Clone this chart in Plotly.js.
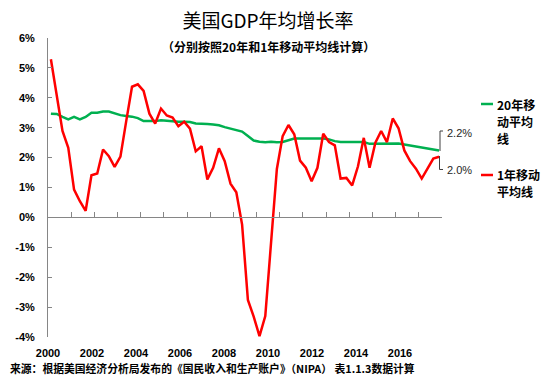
<!DOCTYPE html>
<html>
<head>
<meta charset="utf-8">
<script src="https://cdn.plot.ly/plotly-3.0.1.min.js"></script>
<style>html,body{margin:0;padding:0;background:#fff;}#chart{width:550px;height:381px;}</style>
</head>
<body>
<div id="chart"></div>
<script>
// ---- data ----
const years = [2000,2001,2002,2003,2004,2005,2006,2007,2008,2009,2010,2011,2012,2013,2014,2015,2016];
const quarterNames = ['Q1','Q2','Q3','Q4'];
const quarters = years.flatMap(y => quarterNames.map(q => y + q));

// 1-year moving average growth (%)
const ma1 = [5.29,4.06,2.89,2.33,0.93,0.54,0.22,1.41,1.47,2.27,2.05,1.69,
             2.03,3.22,4.37,4.45,4.23,3.47,3.14,3.64,3.41,3.34,3.05,3.20,
             2.97,2.21,2.38,1.27,1.66,2.31,1.88,1.13,0.84,-0.24,-2.76,-3.32,
             -3.97,-3.30,-0.81,1.62,2.72,3.09,2.78,1.90,1.66,1.21,1.66,2.80,
             2.52,2.41,1.30,1.32,1.07,1.71,2.66,1.66,2.50,2.89,2.52,3.31,
             2.98,2.24,1.88,1.63,1.30,1.66,1.97,2.03];
// 20-year moving average growth (%)
const ma20 = [3.47,3.46,3.36,3.28,3.36,3.28,3.36,3.50,3.50,3.54,3.54,3.48,
              3.42,3.39,3.37,3.32,3.22,3.22,3.22,3.25,3.23,3.20,3.20,3.20,
              3.19,3.14,3.14,3.12,3.11,3.08,3.02,2.97,2.91,2.87,2.72,2.57,
              2.53,2.51,2.53,2.51,2.52,2.57,2.64,2.64,2.64,2.64,2.66,2.64,
              2.61,2.55,2.52,2.53,2.52,2.52,2.52,2.46,2.46,2.46,2.46,2.46,
              2.47,2.44,2.41,2.38,2.33,2.31,2.27,2.24];

const seriesNames = ['20年移动平均线', '1年移动平均线'];
const legendLines20 = ['20年移', '动平均', '线'];
const legendLines1 = ['1年移动', '平均线'];
const yearTickVals = [2000,2002,2004,2006,2008,2010,2012,2014,2016];
const yearTickText = ['2000','2002','2004','2006','2008','2010','2012','2014','2016'];
const yTickVals = [-4,-3,-2,-1,0,1,2,3,4,5,6];
const yTickText = ['-4%','-3%','-2%','-1%','0%','1%','2%','3%','4%','5%','6%'];
const endLabel20 = '2.2%';
const endLabel1 = '2.0%';

// quarter label -> position on the year scale (centre of the quarter)
const qx = quarters.map(s => +s.slice(0,4) + (+s.slice(5) - 0.5) / 4);

// ---- layout helpers (pixel -> paper) ----
const W = 550, H = 381, L = 48, R = 108, T = 38, B = 44;
const PW = W - L - R, PH = H - T - B;
const px = x => (x - L) / PW;
const py = y => (H - B - y) / PH;

const GREEN = '#00B050', RED = '#FF0000', AXIS = '#868686';
const CJK = '"Noto Sans CJK SC", "Liberation Sans", sans-serif';
const LAT = '"Liberation Sans", Arial, sans-serif';

const traces = [
  {x: qx, y: ma20, name: seriesNames[0], type: 'scatter', mode: 'lines',
   line: {color: GREEN, width: 2.5}, hoverinfo: 'skip'},
  {x: qx, y: ma1, name: seriesNames[1], type: 'scatter', mode: 'lines',
   line: {color: RED, width: 2.5}, hoverinfo: 'skip'},
  // carrier so the year-label axis is drawn
  {x: [], y: [], xaxis: 'x2', yaxis: 'y', type: 'scatter', mode: 'lines',
   showlegend: false, hoverinfo: 'skip'}
];

const legendAnn = (lines, ys) => lines.map((t, k) => ({
  text: t, xref: 'paper', yref: 'paper', x: px(495), y: py(ys[k]),
  xanchor: 'left', yanchor: 'middle', showarrow: false,
  font: {family: CJK, size: 12, color: '#000', weight: 'bold'}
}));

const layout = {
  width: W, height: H,
  margin: {l: L, r: R, t: T, b: B, pad: 0},
  paper_bgcolor: '#fff', plot_bgcolor: '#fff',
  showlegend: false,
  font: {family: CJK, color: '#000'},
  title: {text: '美国GDP年均增长率', font: {family: CJK, size: 19, color: '#000'},
          x: 268 / W, xanchor: 'center', xref: 'container',
          y: 1 - 21 / H, yanchor: 'middle', yref: 'container'},
  xaxis: {range: [2000, 2017], tick0: 2000, dtick: 1, ticks: 'inside', ticklen: 5,
          tickcolor: AXIS, tickwidth: 1, showline: true, linecolor: AXIS, linewidth: 1,
          anchor: 'free', position: 0.4, showticklabels: false, showgrid: false, zeroline: false},
  xaxis2: {overlaying: 'x', anchor: 'free', position: 0, side: 'bottom',
           range: [2000, 2000 + PW / 22], tickvals: yearTickVals, ticktext: yearTickText,
           ticks: '', showline: false, showgrid: false, zeroline: false,
           ticklabelstandoff: 8,
           tickfont: {family: LAT, size: 11, color: '#000', weight: 'bold'}},
  yaxis: {range: [-4, 6], tickvals: yTickVals, ticktext: yTickText, ticks: 'inside', ticklen: 4,
          tickcolor: AXIS, showline: true, linecolor: AXIS, linewidth: 1, showgrid: false, zeroline: false,
          ticklabelstandoff: 10,
          tickfont: {family: LAT, size: 11, color: '#000', weight: 'bold'}},
  shapes: [
    {type: 'path', xref: 'paper', yref: 'paper',
     path: `M ${px(443)} ${py(131)} L ${px(440)} ${py(131)} L ${px(440)} ${py(151)}`,
     line: {color: '#404040', width: 1}},
    {type: 'path', xref: 'paper', yref: 'paper',
     path: `M ${px(439.5)} ${py(156)} L ${px(439.5)} ${py(169.5)} L ${px(443)} ${py(169.5)}`,
     line: {color: '#404040', width: 1}},
    {type: 'line', xref: 'paper', yref: 'paper', x0: px(481), x1: px(493), y0: py(104), y1: py(104),
     line: {color: GREEN, width: 2.5}},
    {type: 'line', xref: 'paper', yref: 'paper', x0: px(481), x1: px(493), y0: py(175), y1: py(175),
     line: {color: RED, width: 2.5}}
  ],
  annotations: [
    {text: '（分别按照20年和1年移动平均线计算）', xref: 'paper', yref: 'paper',
     x: px(268), y: py(47), xanchor: 'center', yanchor: 'middle', showarrow: false,
     font: {family: CJK, size: 12, color: '#000', weight: 'bold'}},
    {text: endLabel20, xref: 'paper', yref: 'paper', x: px(445), y: py(133),
     xanchor: 'left', yanchor: 'middle', showarrow: false,
     font: {family: LAT, size: 11, color: '#262626'}},
    {text: endLabel1, xref: 'paper', yref: 'paper', x: px(445), y: py(170),
     xanchor: 'left', yanchor: 'middle', showarrow: false,
     font: {family: LAT, size: 11, color: '#262626'}},
    ...legendAnn(legendLines20, [104.5, 121.5, 138.5]),
    ...legendAnn(legendLines1, [174.5, 191.5]),
    {text: '来源：根据美国经济分析局发布的《国民收入和生产账户》（NIPA） 表1.1.3数据计算',
     xref: 'paper', yref: 'paper', x: px(8), y: py(368), xanchor: 'left', yanchor: 'middle',
     showarrow: false, font: {family: CJK, size: 10.8, color: '#000', weight: 'bold'}}
  ]
};

Plotly.newPlot('chart', traces, layout, {staticPlot: true, displayModeBar: false});
</script>
</body>
</html>
